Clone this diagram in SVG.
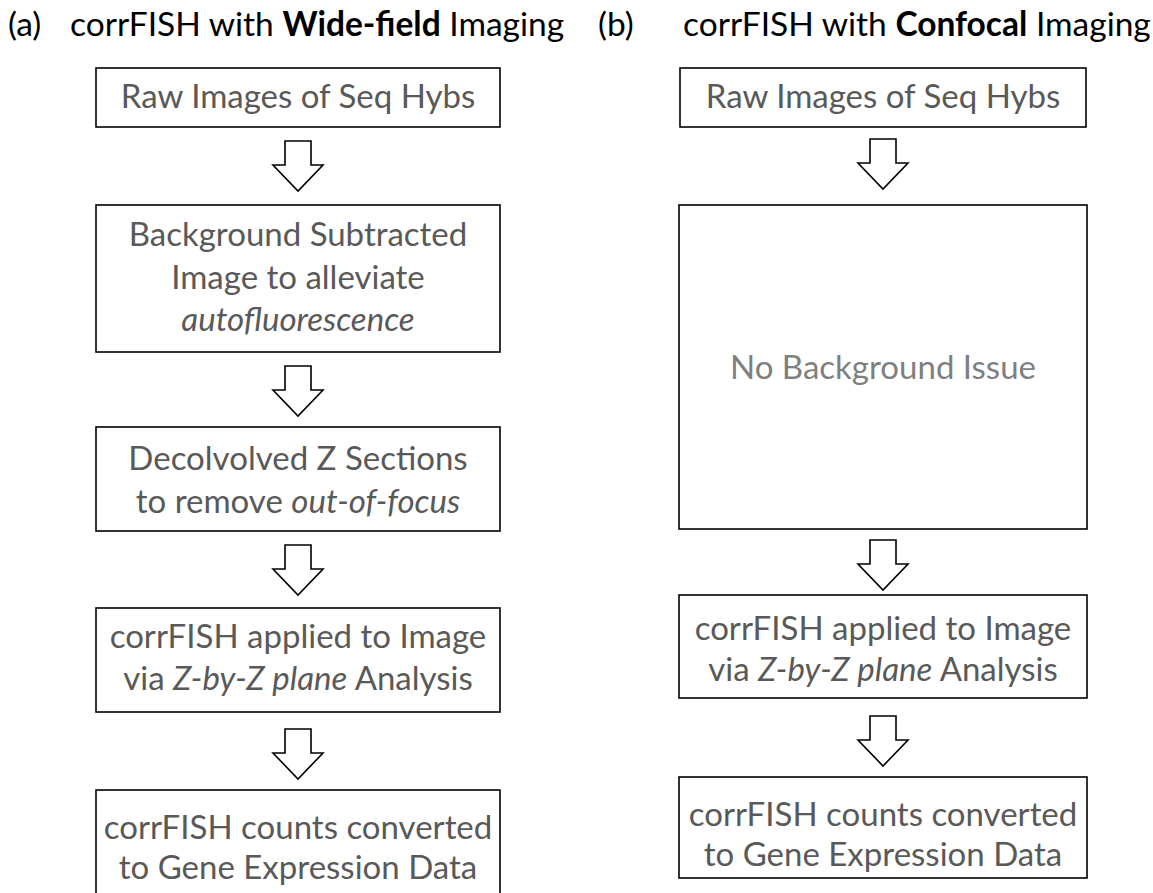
<svg xmlns="http://www.w3.org/2000/svg" width="1153" height="893" viewBox="0 0 1153 893">
<style>
.bg{fill:#ffffff}
.box{fill:#ffffff;stroke:#000000;stroke-width:1.6}
.arr{fill:#ffffff;stroke:#000000;stroke-width:1.6;stroke-linejoin:miter}
.t{font-family:Lato,"Open Sans","Liberation Sans",sans-serif;font-size:33px;fill:#595959;text-anchor:middle}
.light{fill:#7f7f7f}
.title{font-family:Lato,"Open Sans","Liberation Sans",sans-serif;font-size:33.5px;fill:#000000}
.b{font-weight:bold}
.i{font-style:italic}
</style>
<defs>
<path id="darrow" d="M-13,0 H13 V24 H25 L0,50 L-25,24 H-13 Z"/>
</defs>
<rect class="bg" x="0" y="0" width="1153" height="893"/>

<g id="title-a">
<text class="title" x="8" y="36">(a)</text>
<text class="title" x="70" y="36">corrFISH with <tspan class="b">Wide-field</tspan> Imaging</text>
</g>
<g id="title-b">
<text class="title" x="598" y="36">(b)</text>
<text class="title" x="683" y="36">corrFISH with <tspan class="b">Confocal</tspan> Imaging</text>
</g>

<g id="connectors">
<use href="#darrow" class="arr" x="298" y="141"/>
<use href="#darrow" class="arr" x="298" y="366"/>
<use href="#darrow" class="arr" x="298" y="545"/>
<use href="#darrow" class="arr" x="298" y="729"/>
<use href="#darrow" class="arr" x="883" y="139"/>
<use href="#darrow" class="arr" x="883" y="540"/>
<use href="#darrow" class="arr" x="883" y="716"/>
</g>

<g id="a1">
<rect class="box" x="96" y="68" width="404" height="59"/>
<text class="t" x="298" y="108">Raw Images of Seq Hybs</text>
</g>
<g id="a2">
<rect class="box" x="96" y="205" width="404" height="147"/>
<text class="t" x="298" y="246">Background Subtracted</text>
<text class="t" x="298" y="289">Image to alleviate</text>
<text class="t i" x="298" y="331">autofluorescence</text>
</g>
<g id="a3">
<rect class="box" x="96" y="427" width="404" height="104"/>
<text class="t" x="298" y="470">Decolvolved Z Sections</text>
<text class="t" x="298" y="513">to remove <tspan class="i">out-of-focus</tspan></text>
</g>
<g id="a4">
<rect class="box" x="96" y="608" width="404" height="104"/>
<text class="t" x="298" y="648">corrFISH applied to Image</text>
<text class="t" x="298" y="690">via <tspan class="i">Z-by-Z plane</tspan> Analysis</text>
</g>
<g id="a5">
<rect class="box" x="96" y="790" width="404" height="110"/>
<text class="t" x="298" y="839">corrFISH counts converted</text>
<text class="t" x="298" y="879">to Gene Expression Data</text>
</g>

<g id="b1">
<rect class="box" x="680" y="68" width="406" height="59"/>
<text class="t" x="883" y="108">Raw Images of Seq Hybs</text>
</g>
<g id="b2">
<rect class="box" x="679" y="205" width="408" height="324"/>
<text class="t light" x="883" y="379">No Background Issue</text>
</g>
<g id="b3">
<rect class="box" x="679" y="595" width="408" height="103"/>
<text class="t" x="883" y="640">corrFISH applied to Image</text>
<text class="t" x="883" y="681">via <tspan class="i">Z-by-Z plane</tspan> Analysis</text>
</g>
<g id="b4">
<rect class="box" x="679" y="777" width="408" height="101"/>
<text class="t" x="883" y="826">corrFISH counts converted</text>
<text class="t" x="883" y="866">to Gene Expression Data</text>
</g>
</svg>
